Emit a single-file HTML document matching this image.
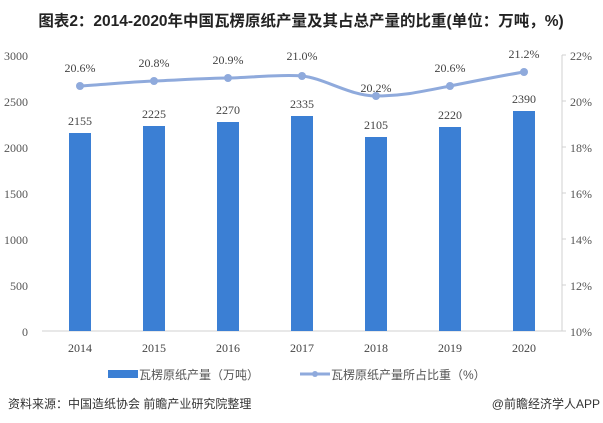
<!DOCTYPE html>
<html><head><meta charset="utf-8"><style>
body{margin:0;background:#fff;width:603px;height:423px;overflow:hidden;font-family:"Liberation Sans","Noto Sans CJK SC",sans-serif}
</style></head><body>
<svg width="603" height="423" xmlns="http://www.w3.org/2000/svg" style="position:absolute;left:0;top:0">
<text x="301" y="26" text-anchor="middle" font-size="15.5" font-weight="bold" fill="#222" font-family="Liberation Sans,Noto Sans CJK SC,sans-serif">图表2：2014-2020年中国瓦楞原纸产量及其占总产量的比重(单位：万吨，%)</text>
<g font-family="Liberation Serif,serif" font-size="12" fill="#555">
<text x="28" y="60" text-anchor="end">3000</text>
<text x="28" y="106" text-anchor="end">2500</text>
<text x="28" y="152" text-anchor="end">2000</text>
<text x="28" y="198" text-anchor="end">1500</text>
<text x="28" y="244" text-anchor="end">1000</text>
<text x="28" y="290" text-anchor="end">500</text>
<text x="28" y="336" text-anchor="end">0</text>
<text x="570" y="60">22%</text>
<text x="570" y="106">20%</text>
<text x="570" y="152">18%</text>
<text x="570" y="198">16%</text>
<text x="570" y="244">14%</text>
<text x="570" y="290">12%</text>
<text x="570" y="336">10%</text>
</g>
<line x1="42" y1="331" x2="562" y2="331" stroke="#d0d0d0"/>
<line x1="562" y1="55" x2="562" y2="331" stroke="#d0d0d0"/>
<g stroke="#d0d0d0"><line x1="562" y1="55" x2="566" y2="55"/><line x1="562" y1="101" x2="566" y2="101"/><line x1="562" y1="147" x2="566" y2="147"/><line x1="562" y1="193" x2="566" y2="193"/><line x1="562" y1="239" x2="566" y2="239"/><line x1="562" y1="285" x2="566" y2="285"/><line x1="562" y1="331" x2="566" y2="331"/></g>
<g fill="#3b7fd4">
<rect x="69" y="133" width="22" height="198"/>
<rect x="143" y="126" width="22" height="205"/>
<rect x="217" y="122" width="22" height="209"/>
<rect x="291" y="116" width="22" height="215"/>
<rect x="365" y="137" width="22" height="194"/>
<rect x="439" y="127" width="22" height="204"/>
<rect x="513" y="111" width="22" height="220"/>
</g>
<g font-family="Liberation Serif,serif" font-size="12" fill="#444" text-anchor="middle">
<text x="80" y="125">2155</text><text x="154" y="118">2225</text><text x="228" y="114">2270</text><text x="302" y="108">2335</text><text x="376" y="129">2105</text><text x="450" y="119">2220</text><text x="524" y="103">2390</text>
<text x="80" y="72">20.6%</text><text x="154" y="67">20.8%</text><text x="228" y="64">20.9%</text><text x="302" y="60">21.0%</text><text x="376" y="92">20.2%</text><text x="450" y="72">20.6%</text><text x="524" y="58">21.2%</text>
<text x="80" y="352">2014</text><text x="154" y="352">2015</text><text x="228" y="352">2016</text><text x="302" y="352">2017</text><text x="376" y="352">2018</text><text x="450" y="352">2019</text><text x="524" y="352">2020</text>
</g>
<path d="M80,86 C110,84 130,82 154,81 S210,78 228,78 S280,74 302,76 S350,96 376,96 S420,92 450,86 S505,75 524,72" fill="none" stroke="#8faadc" stroke-width="3"/>
<g fill="#8faadc"><circle cx="80" cy="86" r="4"/><circle cx="154" cy="81" r="4"/><circle cx="228" cy="78" r="4"/><circle cx="302" cy="76" r="4"/><circle cx="376" cy="96" r="4"/><circle cx="450" cy="86" r="4"/><circle cx="524" cy="72" r="4"/></g>
<rect x="108" y="370" width="30" height="8" fill="#3b7fd4"/>
<text x="139" y="379" font-size="12" fill="#555">瓦楞原纸产量（万吨）</text>
<line x1="300" y1="374" x2="330" y2="374" stroke="#8faadc" stroke-width="3"/>
<circle cx="315" cy="374" r="3" fill="#8faadc"/>
<text x="331" y="379" font-size="12" fill="#555">瓦楞原纸产量所占比重（%）</text>
<text x="8" y="408" font-size="12" fill="#333">资料来源：中国造纸协会 前瞻产业研究院整理</text>
<text x="600" y="408" font-size="12" fill="#333" text-anchor="end">@前瞻经济学人APP</text>
</svg>
</body></html>
